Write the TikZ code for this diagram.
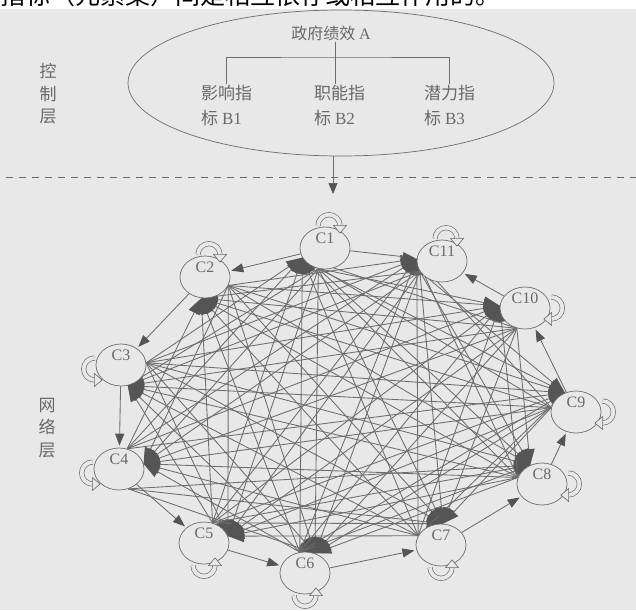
\documentclass[tikz,border=0pt]{standalone}
\usepackage{fontspec}
\setmainfont{Liberation Serif}
\newfontfamily\cjk{Noto Sans CJK SC}
\usetikzlibrary{arrows.meta,shapes.geometric}
\definecolor{bg}{RGB}{232,232,232}
\definecolor{ln}{RGB}{108,108,108}
\definecolor{tipc}{RGB}{85,85,85}
\definecolor{txt}{RGB}{105,105,105}
\pgfdeclarelayer{back}
\pgfdeclarelayer{edges}
\pgfsetlayers{back,edges,main}
\tikzset{
  cnode/.style={ellipse,draw=ln,fill=bg,line width=0.7pt,minimum width=50pt,minimum height=42pt,inner sep=0pt},
  clab/.style={text=txt,font=\fontsize{16}{16}\selectfont,inner sep=0pt},
  edge/.style={draw=ln,line width=0.85pt,-{Triangle[length=16pt,width=12pt,color=tipc]}},
  adj/.style={draw=ln,line width=0.85pt,shorten >=2pt,-{Triangle[length=12pt,width=9pt,color=tipc]}},
  hl/.style={draw=ln,line width=0.7pt},
  btxt/.style={text=txt,font=\cjk\fontsize{17}{25}\selectfont,align=left,inner sep=1pt},
  vtxt/.style={text=txt,font=\cjk\fontsize{17}{22.5}\selectfont,align=center,inner sep=0pt},
  selfloop/.pic={
    \draw[draw=ln,line width=0.65pt,double=bg,double distance=3.8pt] (-11,0) arc[start angle=180,end angle=360,radius=11];
    \draw[draw=ln,fill=bg,line width=0.65pt,line join=round] (4.5,-0.3) -- (17.5,-0.3) -- (11,7.5) -- cycle;
  }
}
\begin{document}
\begin{tikzpicture}[x=1pt,y=-1pt]
\useasboundingbox (0,0) rectangle (636,610);
\begin{pgfonlayer}{back}
  \fill[bg] (0,0) rectangle (636,610);
  \fill[white] (0,0) rectangle (636,9);
\end{pgfonlayer}
% top (cut) line of text
\node[anchor=base west,inner sep=0pt,font=\cjk\fontsize{25}{25}\selectfont] (title) at (0,5) {指标（元素集）间是相互依存或相互作用的。};

% control layer
\node[ellipse,draw=ln,line width=0.7pt,minimum width=426pt,minimum height=146pt,inner sep=0pt] (ctrl) at (341,83) {};
\node[text=txt,font=\cjk\fontsize{16}{16}\selectfont,inner sep=1pt] (A) at (331,33) {政府绩效 \textrm{A}};
\node[btxt,anchor=north west] (B1) at (200,84) {影响指\\标 \textrm{B1}};
\node[btxt,anchor=north west] (B2) at (313,84) {职能指\\标 \textrm{B2}};
\node[btxt,anchor=north west] (B3) at (423,84) {潜力指\\标 \textrm{B3}};
\coordinate (bar) at (335,57);
\draw[hl] (A.south -| bar) -- (bar |- B2.north);
\draw[hl] (B1.north) |- (bar) -| (B3.north);
\coordinate (aend) at (333,194);
\draw[hl,-{Triangle[length=11pt,width=9pt,color=tipc]}] (aend |- ctrl.south) -- (aend);
\node[vtxt] (ctl) at (48,94) {控\\制\\层};

% dashed separator
\coordinate (dl) at (6,177);
\coordinate (dr) at (636,177);
\draw[draw=ln,line width=0.7pt,dash pattern=on 7pt off 6pt] (dl) -- (dr);

\node[vtxt] (net) at (47,428) {网\\络\\层};

% network nodes
\foreach \n/\x/\y in {1/325/248,2/205/277,3/121/365,4/119/469,5/204/543,6/305/573,7/441/545,8/542/484,9/576/412,10/525/308,11/442/261}{
  \node[cnode] (C\n) at (\x,\y) {};
  \node[clab,yshift=10pt] (L\n) at (C\n.center) {C\n};
}
% out and in points
\foreach \n/\a/\b in {1/-108/-157,2/-20/-100,3/5/-72,4/68/12,5/67/16,6/104/63,7/158/85,8/165/122,9/170/120,10/-112/175,11/-155/175}{
  \coordinate (o\n) at (C\n.\a);
  \coordinate (n\n) at (C\n.\b);
}
\coordinate (p4) at (C4.-65);

\begin{pgfonlayer}{edges}
\foreach \s in {1,...,11}{
  \foreach \t in {1,...,11}{
    \pgfmathtruncatemacro\d{mod(\t-\s+11,11)}
    \ifnum\d>1\relax\ifnum\d<10\relax
      \def\src{o\s}
      \ifnum\s=4\relax\ifnum\t>5\relax\ifnum\t<9\relax\def\src{p4}\fi\fi\fi
      \draw[edge] (\src) -- (n\t);
    \fi\fi
  }
}
\foreach \s/\t in {1/2,2/3,3/4,4/5,5/6,6/7,7/8,8/9,9/10,10/11,1/11}{
  \draw[adj] (C\s) -- (C\t);
}
\end{pgfonlayer}

% self loops
\foreach \n in {1,2,11}{ \pic at ([xshift=4pt,yshift=1pt]C\n.north) {selfloop}; }
\foreach \n in {10,9,8}{ \pic[rotate=-90] at ([xshift=1pt]C\n.east) {selfloop}; }
\foreach \n in {7,6,5}{ \pic[yscale=-1] at ([yshift=-1pt]C\n.south) {selfloop}; }
\foreach \n in {4,3}{ \pic[rotate=90,xscale=-1] at ([xshift=-1pt,yshift=-4pt]C\n.west) {selfloop}; }
\end{tikzpicture}
\end{document}
